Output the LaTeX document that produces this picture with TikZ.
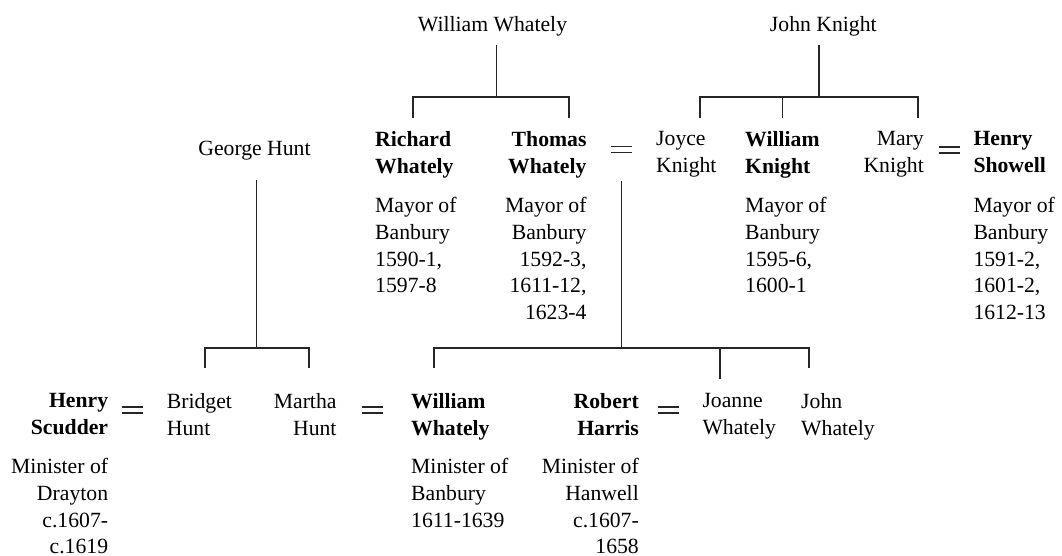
\documentclass[tikz,border=0pt]{standalone}
\usepackage{fontspec}
\setmainfont{LiberationSerif}[Extension=.ttf,UprightFont=*-Regular,BoldFont=*-Bold]
\newcommand\treefont{\fontsize{21.7}{26.7}\selectfont}
\begin{document}
\begin{tikzpicture}[x=1pt,y=-1pt,
  txt/.style={inner sep=0pt,font=\treefont},
  nm/.style={inner sep=0pt,font=\treefont\bfseries},
  lft/.style={align=left,anchor=north west},
  rgt/.style={align=right,anchor=north east},
  ln/.style={line width=1.1pt,black!85},
  eqsign/.style={inner sep=0pt,minimum width=21pt,minimum height=5.5pt},
  eqline/.style={line width=1.5pt,black!85}]
\useasboundingbox (0,0) rectangle (1062,556);

% top generation
\node[txt,anchor=base] (WW) at (492.5,32) {William Whately};
\node[txt,anchor=base] (JK) at (823.3,32) {John Knight};
\node[txt,anchor=base] (GH) at (254.5,156) {George Hunt};

% second generation
\node[nm,lft] (RW) at (375,131.2) {Richard\\Whately};
\node[nm,rgt] (TW) at (586.7,131.2) {Thomas\\Whately};
\node[eqsign] (eq1) at (621.5,149.5) {};
\node[txt,lft] (JoK) at (656,131.2) {Joyce\\Knight};
\node[nm,lft] (WK) at (745,131.2) {William\\Knight};
\node[txt,rgt] (MK) at (924,131.2) {Mary\\Knight};
\node[eqsign] (eq2) at (949.5,150) {};
\node[nm,lft] (HS) at (973.3,131.2) {Henry\\Showell};

\node[txt,lft] (RWd) at (375,197.2) {Mayor of\\Banbury\\1590-1,\\1597-8};
\node[txt,rgt] (TWd) at (586.7,197.2) {Mayor of\\Banbury\\1592-3,\\1611-12,\\1623-4};
\node[txt,lft] (WKd) at (745,197.2) {Mayor of\\Banbury\\1595-6,\\1600-1};
\node[txt,lft] (HSd) at (973.3,197.2) {Mayor of\\Banbury\\1591-2,\\1601-2,\\1612-13};

% third generation
\node[nm,rgt] (HSc) at (108.3,393.2) {Henry\\Scudder};
\node[eqsign] (eq3) at (132.5,410) {};
\node[txt,lft] (BH) at (166.7,393.2) {Bridget\\Hunt};
\node[txt,rgt] (MH) at (336.7,393.2) {Martha\\Hunt};
\node[eqsign] (eq4) at (372.2,410) {};
\node[nm,lft] (WW2) at (411,393.2) {William\\Whately};
\node[nm,rgt] (RH) at (639,393.2) {Robert\\Harris};
\node[eqsign] (eq5) at (668.2,410) {};
\node[txt,lft] (JW) at (702.3,393.2) {Joanne\\Whately};
\node[txt,lft] (JnW) at (801,393.2) {John\\Whately};

\node[txt,rgt] (HScd) at (108.3,458.2) {Minister of\\Drayton\\c.1607-\\c.1619};
\node[txt,lft] (WW2d) at (411,458.2) {Minister of\\Banbury\\1611-1639};
\node[txt,rgt] (RHd) at (639,458.2) {Minister of\\Hanwell\\c.1607-\\1658};

% marriage signs
\foreach \e in {eq1,eq2,eq3,eq4,eq5}
  \draw[eqline] (\e.north west) -- (\e.north east) (\e.south west) -- (\e.south east);

% connector points
\coordinate (WWt) at (496.7,45);
\coordinate (WWb) at (496.7,97);
\coordinate (RWt) at (413,118);
\coordinate (TWt) at (569,118);

\coordinate (JKt) at (819,45);
\coordinate (JKb) at (819,97);
\coordinate (JoKt) at (700,118);
\coordinate (WKt) at (782.7,118);
\coordinate (MKt) at (918,118);

\coordinate (GHt) at (256.7,180);
\coordinate (GHb) at (256.7,348);
\coordinate (BHt) at (205,368);
\coordinate (MHt) at (309,368);

\coordinate (M1t) at (621.7,181);
\coordinate (M1b) at (621.7,348);
\coordinate (WW2t) at (434,368);
\coordinate (JWt) at (720,379);
\coordinate (JnWt) at (809,368);

% connectors
\draw[ln] (WWt) -- (WWb);
\draw[ln] (RWt) |- (WWb) -| (TWt);

\draw[ln] (JKt) -- (JKb);
\draw[ln] (JoKt) |- (JKb) -| (MKt);
\draw[ln] (WKt) -- (WKt |- JKb);

\draw[ln] (GHt) -- (GHb);
\draw[ln] (BHt) |- (GHb) -| (MHt);

\draw[ln] (M1t) -- (M1b);
\draw[ln] (WW2t) |- (M1b) -| (JnWt);
\draw[ln] (JWt) -- (JWt |- M1b);
\end{tikzpicture}
\end{document}
